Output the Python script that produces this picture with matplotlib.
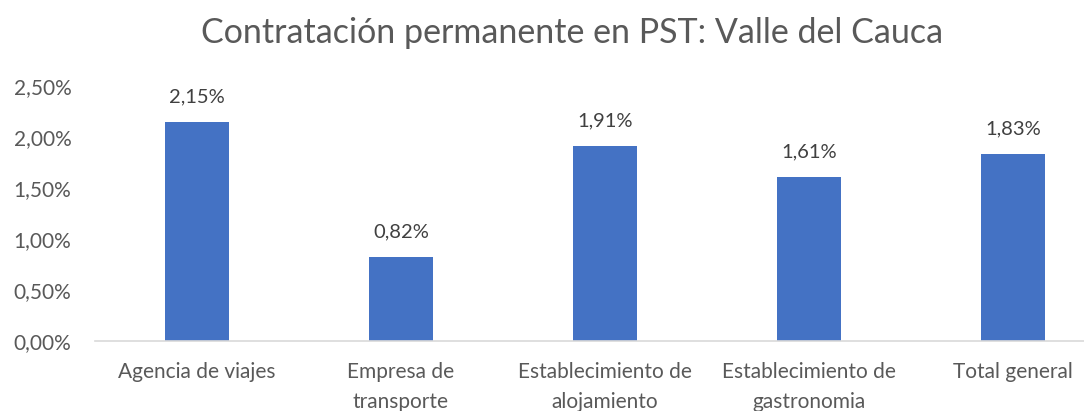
import numpy as np
import matplotlib.pyplot as plt

categories = ['Agencia de viajes', 'Empresa de\ntransporte', 'Establecimiento de\nalojamiento',
              'Establecimiento de\ngastronomia', 'Total general']
values = [2.15, 0.82, 1.91, 1.61, 1.83]
yticks = [0, 0.5, 1.0, 1.5, 2.0, 2.5]

plt.rcParams['font.family'] = ['Lato', 'DejaVu Sans']
grey = '#595959'

fig = plt.figure(figsize=(10.84, 4.11), dpi=100)
ax = fig.add_axes([0.0876, 0.170, 0.941, 0.621])

x = np.arange(len(categories))
ax.bar(x, values, width=0.31, color='#4472C4', zorder=2)
for xi, v in zip(x, values):
    ax.annotate(('%.2f%%' % v).replace('.', ','), (xi, v), xytext=(0, 12),
                textcoords='offset points', ha='center', va='bottom',
                fontsize=14.5, color='#404040')

ax.set_xlim(-0.5, len(categories) - 0.5)
ax.set_ylim(0, 2.5)
ax.set_yticks(yticks)
ax.set_yticklabels([('%.2f%%' % t).replace('.', ',') for t in yticks])
ax.set_xticks(x)
ax.set_xticklabels(categories, linespacing=1.65)
ax.tick_params(axis='both', length=0, labelsize=15, colors=grey)
ax.tick_params(axis='y', pad=17)
ax.tick_params(axis='x', pad=15)
for s in ['top', 'right', 'left']:
    ax.spines[s].set_visible(False)
ax.spines['bottom'].set_color('#d9d9d9')
ax.spines['bottom'].set_linewidth(1.2)

fig.text(0.528, 0.92, 'Contratación permanente en PST: Valle del Cauca',
         ha='center', va='center', fontsize=24.5, color=grey)

fig.savefig('out.png', dpi=100)
